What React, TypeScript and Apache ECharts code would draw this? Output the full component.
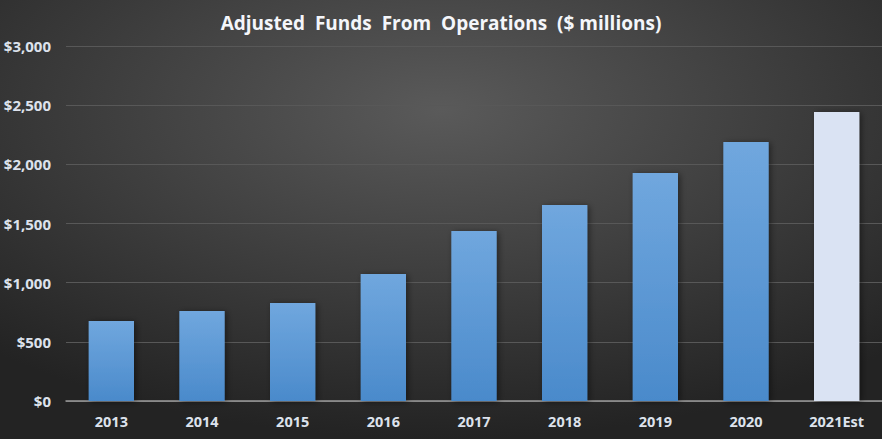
import React, { useEffect, useRef } from "react";
import * as echarts from "echarts";

const categories = ["2013", "2014", "2015", "2016", "2017", "2018", "2019", "2020", "2021Est"];
const values = [676, 760, 828, 1073, 1437, 1656, 1927, 2189, 2442];
const yTicks = [0, 500, 1000, 1500, 2000, 2500, 3000];
const titleText = "Adjusted  Funds  From  Operations  ($ millions)";

export default function App() {
  const ref = useRef<HTMLDivElement>(null);
  useEffect(() => {
    document.body.style.margin = "0";
    const chart = echarts.init(ref.current!, null, { renderer: "svg" });
    const blueGrad = new echarts.graphic.LinearGradient(0, 0, 0, 1, [
      { offset: 0, color: "#70a7de" },
      { offset: 1, color: "#4a8acb" },
    ]);
    chart.setOption({
      animation: false,
      backgroundColor: new echarts.graphic.RadialGradient(0.5, 0.25, 0.75, [
        { offset: 0, color: "#5a5a5a" },
        { offset: 1, color: "#232323" },
      ]),
      title: {
        text: titleText,
        left: "center",
        top: 8,
        textStyle: {
          color: "#f4f6fa",
          fontSize: 19,
          fontWeight: "bold",
          fontFamily: "Open Sans",
        },
      },
      grid: { left: 66, right: 0, top: 46, bottom: 38 },
      xAxis: {
        type: "category",
        data: categories,
        axisLine: { lineStyle: { color: "#9a9a9a", width: 1.5 } },
        axisTick: { show: false },
        axisLabel: {
          color: "#dde2ec",
          fontSize: 14.5,
          fontWeight: "bold",
          fontFamily: "Open Sans",
          margin: 13,
        },
      },
      yAxis: {
        type: "value",
        min: yTicks[0],
        max: yTicks[yTicks.length - 1],
        interval: 500,
        axisLine: { show: false },
        axisTick: { show: false },
        splitLine: { lineStyle: { color: "#585858", width: 1 } },
        axisLabel: {
          color: "#dde2ec",
          fontSize: 15,
          fontWeight: "bold",
          fontFamily: "Open Sans",
          margin: 15,
          formatter: (v: number) => "$" + v.toLocaleString("en-US"),
        },
      },
      series: [
        {
          type: "bar",
          barWidth: "50%",
          data: values.map((v, i) => ({
            value: v,
            itemStyle: {
              color: i === values.length - 1 ? "#dae3f3" : blueGrad,
              shadowColor: "rgba(0,0,0,0.45)",
              shadowBlur: 6,
              shadowOffsetX: 2,
              shadowOffsetY: 1,
            },
          })),
        },
      ],
    });
    return () => chart.dispose();
  }, []);
  return <div ref={ref} style={{ width: 882, height: 439 }} />;
}
